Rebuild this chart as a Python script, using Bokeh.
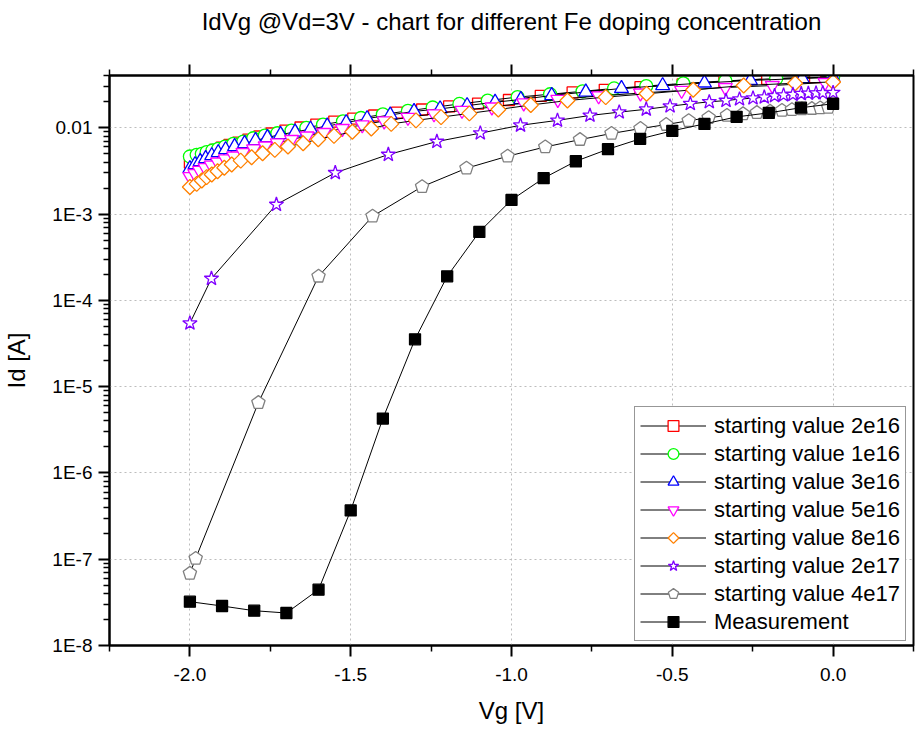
import math
from bokeh.plotting import figure
from bokeh.models import (FixedTicker, PrintfTickFormatter, CustomJSTickFormatter,
                          LinearAxis, Legend, LegendItem, ColumnDataSource, Range1d)
from bokeh.embed import file_html
from bokeh.resources import INLINE

# ---------------- data ----------------
vg_2e16 = [-2.000, -1.988, -1.973, -1.957, -1.940, -1.922, -1.901, -1.877, -1.849, -1.818,
           -1.784, -1.746, -1.703, -1.656, -1.607, -1.551, -1.492, -1.427, -1.356, -1.278,
           -1.194, -1.104, -1.008, -0.909, -0.810, -0.710, -0.599, -0.468, -0.338, -0.205,
           -0.056, 0.000]
id_2e16 = [3.96e-3, 4.23e-3, 4.52e-3, 4.84e-3, 5.17e-3, 5.53e-3, 5.91e-3, 6.32e-3, 6.75e-3, 7.31e-3,
           7.93e-3, 8.59e-3, 9.30e-3, 1.008e-2, 1.09e-2, 1.18e-2, 1.28e-2, 1.39e-2, 1.50e-2, 1.63e-2,
           1.77e-2, 1.91e-2, 2.10e-2, 2.34e-2, 2.57e-2, 2.76e-2, 2.96e-2, 3.18e-2, 3.47e-2, 3.70e-2,
           3.86e-2, 3.93e-2]

vg_1e16 = [-2.000, -1.979, -1.963, -1.948, -1.930, -1.912, -1.891, -1.865, -1.834, -1.803,
           -1.767, -1.728, -1.684, -1.638, -1.586, -1.524, -1.468, -1.400, -1.322, -1.245,
           -1.162, -1.074, -0.981, -0.880, -0.779, -0.681, -0.581, -0.466, -0.335, -0.177,
           0.000]
id_1e16 = [4.65e-3, 4.86e-3, 5.00e-3, 5.22e-3, 5.46e-3, 5.71e-3, 6.07e-3, 6.52e-3, 6.93e-3, 7.57e-3,
           8.14e-3, 8.65e-3, 9.30e-3, 1.00e-2, 1.09e-2, 1.19e-2, 1.30e-2, 1.43e-2, 1.57e-2, 1.72e-2,
           1.89e-2, 2.07e-2, 2.27e-2, 2.45e-2, 2.65e-2, 2.86e-2, 3.05e-2, 3.27e-2, 3.50e-2, 3.72e-2,
           3.88e-2]

vg_3e16 = [-2.000, -1.984, -1.968, -1.951, -1.932, -1.912, -1.889, -1.861, -1.830, -1.796,
           -1.759, -1.718, -1.673, -1.625, -1.573, -1.514, -1.449, -1.377, -1.303, -1.222,
           -1.138, -1.051, -0.971, -0.875, -0.769, -0.658, -0.530, -0.400, -0.257, -0.096,
           0.000]
id_3e16 = [3.37e-3, 3.75e-3, 4.07e-3, 4.41e-3, 4.77e-3, 5.17e-3, 5.60e-3, 6.07e-3, 6.58e-3, 7.13e-3,
           7.72e-3, 8.36e-3, 8.94e-3, 9.68e-3, 1.049e-2, 1.15e-2, 1.28e-2, 1.41e-2, 1.55e-2, 1.66e-2,
           1.81e-2, 1.98e-2, 2.13e-2, 2.37e-2, 2.60e-2, 2.86e-2, 3.09e-2, 3.31e-2, 3.54e-2, 3.73e-2,
           3.83e-2]

vg_5e16 = [-2.000, -1.985, -1.970, -1.953, -1.934, -1.914, -1.890, -1.864, -1.835, -1.802,
           -1.766, -1.728, -1.684, -1.636, -1.583, -1.526, -1.464, -1.396, -1.322, -1.241,
           -1.154, -1.061, -0.962, -0.856, -0.729, -0.599, -0.471, -0.335, -0.189, -0.025]
id_5e16 = [2.72e-3, 2.95e-3, 3.20e-3, 3.46e-3, 3.70e-3, 4.01e-3, 4.35e-3, 4.71e-3, 5.17e-3, 5.68e-3,
           6.15e-3, 6.67e-3, 7.31e-3, 8.03e-3, 8.82e-3, 9.81e-3, 1.08e-2, 1.20e-2, 1.32e-2, 1.45e-2,
           1.59e-2, 1.74e-2, 1.94e-2, 2.13e-2, 2.34e-2, 2.53e-2, 2.71e-2, 2.93e-2, 3.09e-2, 3.35e-2]

vg_8e16 = [-2.000, -1.979, -1.963, -1.948, -1.932, -1.914, -1.893, -1.870, -1.842, -1.808,
           -1.774, -1.736, -1.695, -1.648, -1.601, -1.552, -1.495, -1.436, -1.374, -1.297,
           -1.219, -1.131, -1.041, -0.940, -0.826, -0.707, -0.580, -0.435, -0.278, -0.118,
           0.000]
id_8e16 = [2.06e-3, 2.24e-3, 2.45e-3, 2.68e-3, 2.88e-3, 3.14e-3, 3.44e-3, 3.75e-3, 4.17e-3, 4.56e-3,
           5.07e-3, 5.55e-3, 6.07e-3, 6.63e-3, 7.38e-3, 8.07e-3, 8.99e-3, 9.82e-3, 1.11e-2, 1.22e-2,
           1.33e-2, 1.47e-2, 1.63e-2, 1.84e-2, 2.07e-2, 2.27e-2, 2.48e-2, 2.76e-2, 3.09e-2, 3.29e-2,
           3.40e-2]

vg_2e17 = [-2.000, -1.933, -1.731, -1.548, -1.383, -1.232, -1.097, -0.972, -0.857, -0.756,
           -0.665, -0.581, -0.507, -0.444, -0.385, -0.333, -0.291, -0.249, -0.214, -0.182,
           -0.154, -0.125, -0.099, -0.077, -0.053, -0.032, 0.000]
id_2e17 = [5.43e-5, 1.79e-4, 1.29e-3, 3.01e-3, 4.90e-3, 6.93e-3, 8.67e-3, 1.07e-2, 1.22e-2, 1.39e-2,
           1.52e-2, 1.64e-2, 1.78e-2, 1.90e-2, 2.00e-2, 2.07e-2, 2.15e-2, 2.21e-2, 2.26e-2, 2.35e-2,
           2.39e-2, 2.43e-2, 2.48e-2, 2.50e-2, 2.52e-2, 2.54e-2, 2.56e-2]

vg_4e17 = [-2.000, -1.982, -1.787, -1.600, -1.432, -1.278, -1.140, -1.012, -0.895, -0.787,
           -0.689, -0.599, -0.519, -0.449, -0.387, -0.330, -0.280, -0.237, -0.196, -0.159,
           -0.128, -0.097, -0.066, -0.040, -0.015]
id_4e17 = [6.85e-8, 1.02e-7, 6.53e-6, 1.90e-4, 9.44e-4, 2.08e-3, 3.40e-3, 4.69e-3, 6.00e-3, 7.30e-3,
           8.60e-3, 9.80e-3, 1.09e-2, 1.21e-2, 1.31e-2, 1.39e-2, 1.45e-2, 1.50e-2, 1.55e-2, 1.59e-2,
           1.62e-2, 1.65e-2, 1.67e-2, 1.70e-2, 1.72e-2]

vg_meas = [-2.0, -1.9, -1.8, -1.7, -1.6, -1.5, -1.4, -1.3, -1.2, -1.1, -1.0,
           -0.9, -0.8, -0.7, -0.6, -0.5, -0.4, -0.3, -0.2, -0.1, 0.0]
id_meas = [3.22e-8, 2.87e-8, 2.53e-8, 2.38e-8, 4.44e-8, 3.68e-7, 4.27e-6, 3.54e-5, 1.90e-4, 6.22e-4,
           1.46e-3, 2.61e-3, 4.10e-3, 5.65e-3, 7.45e-3, 9.23e-3, 1.11e-2, 1.34e-2, 1.49e-2, 1.71e-2,
           1.90e-2]

series_labels = ["starting value 2e16", "starting value 1e16", "starting value 3e16",
                 "starting value 5e16", "starting value 8e16", "starting value 2e17",
                 "starting value 4e17", "Measurement"]

x_major_ticks = [-2.0, -1.5, -1.0, -0.5, 0.0]
x_minor_ticks = [-2.25, -1.75, -1.25, -0.75, -0.25, 0.25]
y_major_ticks = [1e-8, 1e-7, 1e-6, 1e-5, 1e-4, 1e-3, 1e-2]
y_tick_labels = ["1E-8", "1E-7", "1E-6", "1E-5", "1E-4", "1E-3", "0.01"]

title_text = "IdVg @Vd=3V - chart for different Fe doping concentration"
x_label = "Vg [V]"
y_label = "Id [A]"

# ---------------- figure ----------------
FONT = "Liberation Sans"

p = figure(width=915, height=732,
           x_range=Range1d(-2.25, 0.25), y_range=Range1d(1e-8, 0.0404),
           y_axis_type="log", output_backend="svg", toolbar_location=None,
           min_border_left=108, min_border_right=2, min_border_top=75, min_border_bottom=87)
p.background_fill_color = "white"
p.border_fill_color = "white"
p.outline_line_color = "black"
p.outline_line_width = 2

y_minor = [k * m for m in [1e-8, 1e-7, 1e-6, 1e-5, 1e-4, 1e-3, 1e-2] for k in range(2, 10)]
x_ticker = FixedTicker(ticks=x_major_ticks, minor_ticks=x_minor_ticks)
y_ticker = FixedTicker(ticks=y_major_ticks, minor_ticks=y_minor)


def style_axis(ax):
    ax.axis_line_width = 2
    ax.axis_line_color = "black"
    ax.major_tick_line_width = 2
    ax.minor_tick_line_width = 1.5
    ax.major_tick_out = 11
    ax.major_tick_in = 0
    ax.minor_tick_out = 6
    ax.minor_tick_in = 0
    ax.major_label_text_font = FONT
    ax.major_label_text_font_size = "19px"
    ax.major_label_text_color = "black"
    ax.axis_label_text_font = FONT
    ax.axis_label_text_font_size = "24px"
    ax.axis_label_text_font_style = "normal"
    ax.axis_label_text_color = "black"


xa = p.xaxis[0]
xa.ticker = x_ticker
xa.formatter = PrintfTickFormatter(format="%.1f")
xa.axis_label = x_label
style_axis(xa)
xa.major_label_standoff = 11
xa.axis_label_standoff = 13

ya = p.yaxis[0]
ya.ticker = y_ticker
ya.formatter = CustomJSTickFormatter(
    args=dict(tv=y_major_ticks, lbl=y_tick_labels),
    code="""
    for (let i = 0; i < tv.length; i++) {
        if (Math.abs(Math.log10(tv[i]) - Math.log10(tick)) < 1e-6) return lbl[i];
    }
    return "";
    """)
ya.axis_label = y_label
style_axis(ya)
ya.major_label_standoff = 6
ya.axis_label_standoff = 19

# top axis: mirrored ticks, no tick labels, carries the chart title
top = LinearAxis(ticker=x_ticker)
style_axis(top)
top.major_label_text_font_size = "0px"
top.major_label_text_color = None
top.major_label_standoff = 0
top.axis_label = title_text
top.axis_label_standoff = 30
p.add_layout(top, "above")

for g in (p.xgrid[0], p.ygrid[0]):
    g.grid_line_color = "#bdbdbd"
    g.grid_line_dash = "2 3"
    g.grid_line_width = 1
p.xgrid[0].ticker = x_ticker
p.ygrid[0].ticker = y_ticker

# ---------------- series ----------------
styles = [
    dict(marker="square", color="#FF0000", fill="white", size=11),
    dict(marker="circle", color="#00FF00", fill="white", size=13),
    dict(marker="triangle", color="#0000FF", fill="white", size=14),
    dict(marker="inverted_triangle", color="#FF00FF", fill="white", size=14),
    dict(marker="ngon4", color="#FF8000", fill="white", size=7.5),
    dict(marker="star", color="#8000FF", fill="white", size=15),
    dict(marker="ngon5", color="#808080", fill="white", size=7),
    dict(marker="square", color="black", fill="black", size=11),
]
data = [(vg_2e16, id_2e16), (vg_1e16, id_1e16), (vg_3e16, id_3e16), (vg_5e16, id_5e16),
        (vg_8e16, id_8e16), (vg_2e17, id_2e17), (vg_4e17, id_4e17), (vg_meas, id_meas)]

try:
    from bokeh.models import Ngon
except Exception:
    Ngon = None

items = []
for label, (xs, ys), st in zip(series_labels, data, styles):
    src = ColumnDataSource(dict(x=xs, y=ys))
    lr = p.line("x", "y", source=src, line_color="black", line_width=1)
    mr = None
    if st["marker"].startswith("ngon"):
        n = int(st["marker"][4:])
        if Ngon is not None:
            # angle 0 puts a vertex at the top (diamond for n=4, upright pentagon for n=5)
            glyph = Ngon(x="x", y="y", radius=st["size"], radius_units="screen", n=n,
                         angle=0.0, line_color=st["color"], fill_color=st["fill"],
                         line_width=1.3)
            mr = p.add_glyph(src, glyph)
        else:
            mr = p.scatter("x", "y", source=src, marker=("hex" if n == 5 else "diamond"),
                           size=2 * st["size"], line_color=st["color"], fill_color=st["fill"],
                           line_width=1.3)
    else:
        mr = p.scatter("x", "y", source=src, marker=st["marker"], size=st["size"],
                       line_color=st["color"], fill_color=st["fill"], line_width=1.3)
    items.append(LegendItem(label=label, renderers=[lr, mr]))

legend = Legend(items=items, location=(525, 4), orientation="vertical",
                glyph_width=66, glyph_height=27, label_height=22, label_standoff=8,
                spacing=1, padding=5, margin=0,
                label_text_font=FONT, label_text_font_size="22px", label_text_color="black",
                border_line_color="#303030", border_line_width=1,
                background_fill_color="white", background_fill_alpha=1.0)
p.add_layout(legend)

open("out.html", "w").write(file_html(p, INLINE))
